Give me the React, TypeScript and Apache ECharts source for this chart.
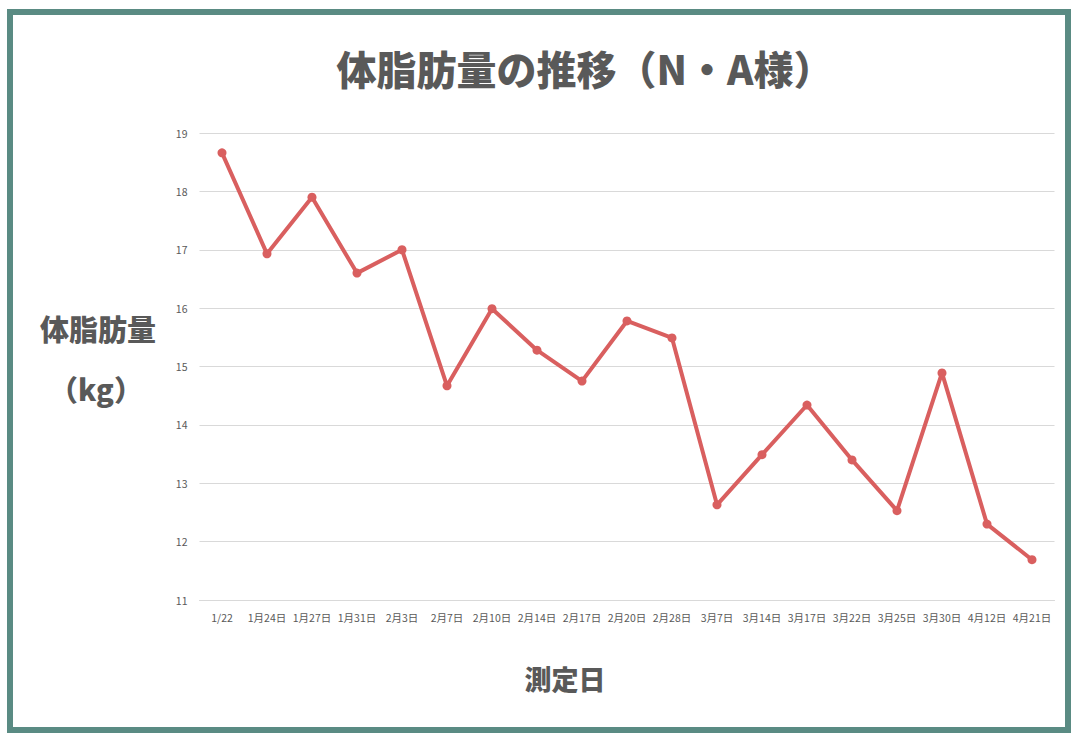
import React, { useEffect, useRef } from "react";
import * as echarts from "echarts";

const categories = [
  "1/22", "1月24日", "1月27日", "1月31日", "2月3日", "2月7日", "2月10日", "2月14日", "2月17日", "2月20日",
  "2月28日", "3月7日", "3月14日", "3月17日", "3月22日", "3月25日", "3月30日", "4月12日", "4月21日",
];
const bodyFat = [
  18.66, 16.93, 17.9, 16.6, 17.0, 14.67, 15.99, 15.28, 14.75, 15.78,
  15.49, 12.63, 13.49, 14.34, 13.4, 12.53, 14.89, 12.3, 11.69,
];
const yMin = 11;
const yMax = 19;
const yStep = 1;

const FONT = "'Noto Sans CJK JP', 'Noto Sans', sans-serif";
const TEXT = "#595959";

export default function App() {
  const ref = useRef<HTMLDivElement>(null);
  useEffect(() => {
    if (!ref.current) return;
    const chart = echarts.init(ref.current, null, { renderer: "svg" });
    chart.setOption({
      animation: false,
      backgroundColor: "#ffffff",
      grid: { left: 199.5, right: 21.5, top: 133, bottom: 140, containLabel: false },
      xAxis: {
        type: "category",
        data: categories,
        boundaryGap: true,
        axisLine: { show: true, lineStyle: { color: "#d9d9d9", width: 1 } },
        axisTick: { show: false },
        axisLabel: { interval: 0, color: TEXT, fontSize: 10.5, fontFamily: FONT, margin: 12 },
      },
      yAxis: {
        type: "value",
        min: yMin,
        max: yMax,
        interval: yStep,
        axisLine: { show: false },
        axisTick: { show: false },
        axisLabel: { color: TEXT, fontSize: 10.5, fontFamily: FONT, margin: 12 },
        splitLine: { lineStyle: { color: "#d9d9d9", width: 1 } },
      },
      series: [
        {
          type: "line",
          data: bodyFat,
          symbol: "circle",
          symbolSize: 9,
          lineStyle: { color: "#d95f5f", width: 4 },
          itemStyle: { color: "#d95f5f" },
        },
      ],
      graphic: [
        {
          type: "rect",
          shape: { x: 10, y: 12, width: 1058, height: 718 },
          style: { fill: "none", stroke: "#5a8b83", lineWidth: 6 },
          silent: true,
        },
        {
          type: "text",
          x: 585,
          y: 68,
          style: {
            text: "体脂肪量の推移（N・A様）",
            font: `900 40px ${FONT}`,
            fill: TEXT,
            align: "center",
            verticalAlign: "middle",
          },
        },
        {
          type: "text",
          x: 98,
          y: 328,
          style: {
            text: "体脂肪量",
            font: `900 29px ${FONT}`,
            fill: TEXT,
            align: "center",
            verticalAlign: "middle",
          },
        },
        {
          type: "text",
          x: 96,
          y: 388,
          style: {
            text: "（kg）",
            font: `900 29px ${FONT}`,
            fill: TEXT,
            align: "center",
            verticalAlign: "middle",
          },
        },
        {
          type: "text",
          x: 565,
          y: 678,
          style: {
            text: "測定日",
            font: `900 27px ${FONT}`,
            fill: TEXT,
            align: "center",
            verticalAlign: "middle",
          },
        },
      ],
    });
    return () => chart.dispose();
  }, []);
  return (
    <div
      ref={ref}
      style={{ position: "fixed", left: 0, top: 0, width: 1076, height: 740, background: "#fff" }}
    />
  );
}
